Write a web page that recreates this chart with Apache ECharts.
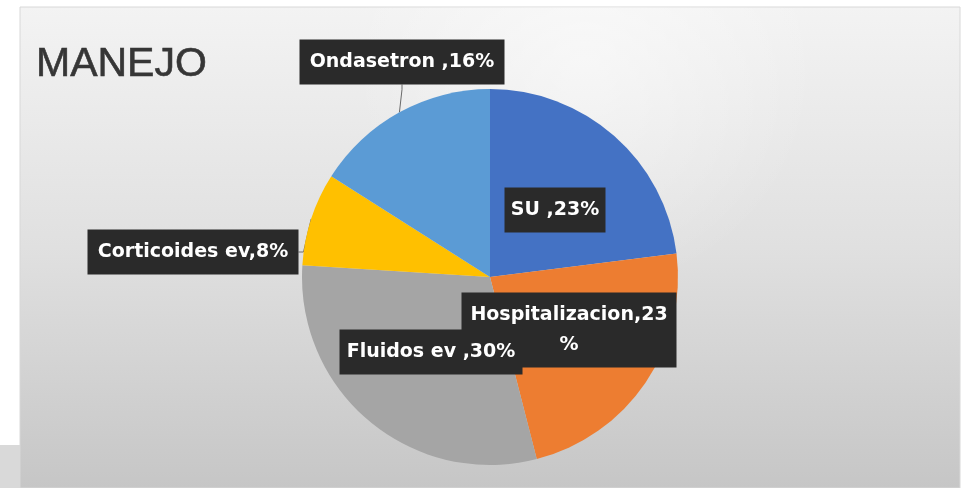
<!DOCTYPE html>
<html>
<head>
<meta charset="utf-8">
<script src="https://cdn.jsdelivr.net/npm/echarts@6/dist/echarts.min.js"></script>
<style>
html,body{margin:0;padding:0;background:#ffffff;}
#chart{width:971px;height:488px;}
</style>
</head>
<body>
<div id="chart"></div>
<script>
// Data
const categories = ['SU', 'Hospitalizacion', 'Fluidos ev', 'Corticoides ev', 'Ondasetron'];
const values = [23, 23, 30, 8, 16];
const labelTexts = ['SU ,23%', 'Hospitalizacion,23\n%', 'Fluidos ev ,30%', 'Corticoides ev,8%', 'Ondasetron ,16%'];
const colors = ['#4472C4', '#ED7D31', '#A5A5A5', '#FFC000', '#5B9BD5'];

// Label box layout (centre x, centre y, box width, padding)
const labelBoxes = [
  {x: 555, y: 210, w: 101, pad: [12, 0, 12, 0]},
  {x: 569, y: 330, w: 215, pad: [12, 0, 3, 0]},
  {x: 431, y: 352, w: 183, pad: [12, 0, 12, 0]},
  {x: 193, y: 252, w: 211, pad: [12, 0, 12, 0]},
  {x: 402, y: 62, w: 205, pad: [12, 0, 12, 0]}
];
const showLine = [false, false, false, true, true];

const chart = echarts.init(document.getElementById('chart'));

const data = categories.map((c, i) => ({
  name: c,
  value: values[i],
  itemStyle: {color: colors[i]},
  label: {
    formatter: labelTexts[i],
    width: labelBoxes[i].w,
    padding: labelBoxes[i].pad,
    lineHeight: i === 1 ? 30 : 21
  },
  labelLine: {show: showLine[i]}
}));

chart.setOption({
  animation: false,
  graphic: [
    {
      type: 'rect', z: -10,
      shape: {x: 20, y: 7, width: 940, height: 481},
      style: {
        fill: new echarts.graphic.LinearGradient(0, 0, 0, 1, [
          {offset: 0, color: '#f3f3f3'},
          {offset: 0.5, color: '#e0e0e0'},
          {offset: 1, color: '#c6c6c6'}
        ]),
        stroke: '#d8d8d8', lineWidth: 1
      }
    },
    {
      type: 'rect', z: -9,
      shape: {x: 200, y: 7, width: 700, height: 260},
      style: {
        fill: new echarts.graphic.RadialGradient(0.55, 0.2, 0.9, [
          {offset: 0, color: 'rgba(255,255,255,0.5)'},
          {offset: 1, color: 'rgba(255,255,255,0)'}
        ])
      }
    },
    {
      type: 'rect', z: -10,
      shape: {x: 0, y: 445, width: 20, height: 43},
      style: {fill: '#d9d9d9'}
    }
  ],
  title: {
    text: 'MANEJO',
    left: 36, top: 44, padding: 0,
    textStyle: {fontFamily: 'Liberation Sans', fontSize: 41, fontWeight: 'normal', color: '#363636', textBorderColor: '#363636', textBorderWidth: 0.6}
  },
  series: [{
    type: 'pie',
    center: [490, 277],
    radius: 188,
    startAngle: 90,
    clockwise: true,
    avoidLabelOverlap: false,
    data: data,
    label: {
      show: true,
      position: 'outside',
      color: '#ffffff',
      fontFamily: 'DejaVu Sans',
      fontWeight: 'bold',
      fontSize: 19,
      backgroundColor: '#2a2a2a',
      align: 'center',
      verticalAlign: 'middle'
    },
    labelLine: {
      show: false,
      length: 5,
      length2: 5,
      lineStyle: {color: '#6a6a6a', width: 1}
    },
    labelLayout: function (params) {
      const b = labelBoxes[params.dataIndex];
      return {x: b.x, y: b.y, align: 'center', verticalAlign: 'middle', hideOverlap: false, moveOverlap: false};
    },
    emphasis: {disabled: true}
  }]
});
</script>
</body>
</html>
